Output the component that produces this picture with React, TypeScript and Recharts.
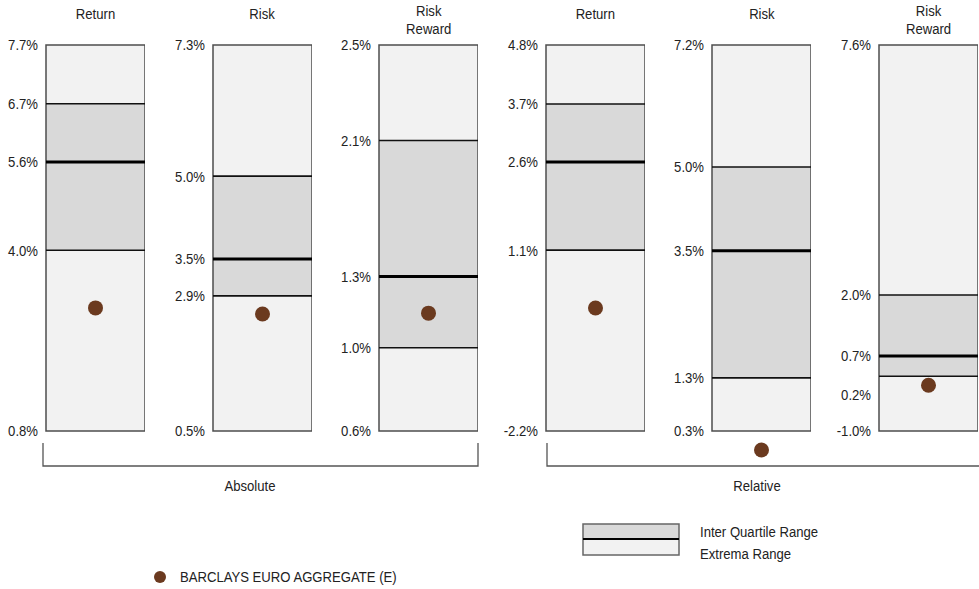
import React from 'react';
import { ComposedChart, XAxis, YAxis, ReferenceArea, ReferenceLine, ReferenceDot } from 'recharts';

// ---- data ----
const panelTitles = ['Return', 'Risk', 'Risk\nReward', 'Return', 'Risk', 'Risk\nReward'];
const groupNames = ['Absolute', 'Relative'];
const maxValues = [7.7, 7.3, 2.5, 4.8, 7.2, 7.6];
const q3Values = [6.65, 4.99, 2.03, 3.73, 5.02, 2.03];
const medianValues = [5.61, 3.53, 1.36, 2.68, 3.52, 0.67];
const q1Values = [4.03, 2.88, 1.01, 1.08, 1.25, 0.22];
const minValues = [0.8, 0.5, 0.6, -2.2, 0.3, -1.0];
const benchmarkValues = [3.0, 2.56, 1.18, 0.03, -0.04, 0.02];
const maxLabels = ['7.7%', '7.3%', '2.5%', '4.8%', '7.2%', '7.6%'];
const q3Labels = ['6.7%', '5.0%', '2.1%', '3.7%', '5.0%', '2.0%'];
const medianLabels = ['5.6%', '3.5%', '1.3%', '2.6%', '3.5%', '0.7%'];
const q1Labels = ['4.0%', '2.9%', '1.0%', '1.1%', '1.3%', '0.2%'];
const minLabels = ['0.8%', '0.5%', '0.6%', '-2.2%', '0.3%', '-1.0%'];
const benchmarkName = 'BARCLAYS EURO AGGREGATE (E)';
const iqrLegend = 'Inter Quartile Range';
const extremaLegend = 'Extrema Range';

// ---- style ----
const FONT = '"Liberation Sans", Arial, sans-serif';
const FS = 15;
const SX = 0.875;
const TEXT = '#222';
const EXTREMA = '#f2f2f2';
const IQR = '#d9d9d9';
const BORDER = '#4d4d4d';
const DOT = '#6b3a1f';
const PLOT_TOP = 45;
const PLOT_H = 386;
const AXIS_W = 50;
const BOX_W = 99;
const CHART_H = 460;
const FIRST_LEFT = 46;
const PITCH = 166.6;

function NText({ x, y, anchor = 'start', children }: { x: number; y: number; anchor?: string; children: any }) {
  return (
    <text
      transform={`translate(${x} ${y}) scale(${SX} 1)`}
      dy="0.36em"
      textAnchor={anchor}
      fontFamily={FONT}
      fontSize={FS}
      fill={TEXT}
    >
      {children}
    </text>
  );
}

function Panel({ i }: { i: number }) {
  const ticks = [maxValues[i], q3Values[i], medianValues[i], q1Values[i], minValues[i]];
  const labels = [maxLabels[i], q3Labels[i], medianLabels[i], q1Labels[i], minLabels[i]];
  const range = maxValues[i] - minValues[i];
  const renderTick = (props: any) => {
    const { x, y, payload } = props;
    let idx = ticks.indexOf(payload.value);
    if (idx < 0) idx = payload.index ?? 0;
    let shift = 0;
    if (idx > 0) {
      const gap = ((ticks[idx - 1] - ticks[idx]) / range) * PLOT_H;
      if (gap < 24) shift = 18;
    }
    return (
      <NText x={x} y={y + shift} anchor="end">
        {labels[idx]}
      </NText>
    );
  };
  const boxLeft = FIRST_LEFT + i * PITCH;
  return (
    <div style={{ position: 'absolute', left: boxLeft - AXIS_W, top: 0 }}>
      <ComposedChart
        width={AXIS_W + BOX_W}
        height={CHART_H}
        data={[{ x: 0.5 }]}
        margin={{ top: PLOT_TOP, right: 0, bottom: CHART_H - PLOT_TOP - PLOT_H, left: 0 }}
      >
        <XAxis type="number" dataKey="x" domain={[0, 1]} hide allowDataOverflow />
        <YAxis
          type="number"
          width={AXIS_W}
          domain={[minValues[i], maxValues[i]]}
          allowDataOverflow
          ticks={ticks}
          interval={0}
          axisLine={false}
          tickLine={false}
          tickSize={0}
          tickMargin={8}
          tick={renderTick}
        />
        <ReferenceArea x1={0} x2={1} y1={minValues[i]} y2={maxValues[i]} fill={EXTREMA} fillOpacity={1} stroke="none" />
        <ReferenceArea x1={0} x2={1} y1={q1Values[i]} y2={q3Values[i]} fill={IQR} fillOpacity={1} stroke="none" />
        <ReferenceLine y={q3Values[i]} stroke="#111" strokeWidth={1.6} />
        <ReferenceLine y={q1Values[i]} stroke="#111" strokeWidth={1.6} />
        <ReferenceLine y={medianValues[i]} stroke="#000" strokeWidth={3} />
        <ReferenceArea x1={0} x2={1} y1={minValues[i]} y2={maxValues[i]} fill="none" stroke={BORDER} strokeWidth={1.5} />
        <ReferenceDot x={0.5} y={benchmarkValues[i]} r={7.5} fill={DOT} stroke="none" ifOverflow="visible" />
      </ComposedChart>
    </div>
  );
}

export default function App() {
  return (
    <div
      style={{
        position: 'absolute',
        left: 0,
        top: 0,
        width: 979,
        height: 589,
        overflow: 'hidden',
        background: '#fff',
        fontFamily: FONT,
        color: TEXT,
      }}
    >
      {panelTitles.map((_, i) => (
        <Panel key={i} i={i} />
      ))}
      <svg width={979} height={589} style={{ position: 'absolute', left: 0, top: 0, pointerEvents: 'none' }}>
        {panelTitles.map((t, i) => {
          const lines = t.split('\n');
          const cx = FIRST_LEFT + i * PITCH + BOX_W / 2;
          const y0 = lines.length > 1 ? 11 : 14;
          return lines.map((ln, k) => (
            <NText key={'t' + i + '_' + k} x={cx} y={y0 + k * 18} anchor="middle">
              {ln}
            </NText>
          ));
        })}
        <path d="M43,443 V466 H478 V443" fill="none" stroke="#555" strokeWidth={1.3} />
        <path d="M547,443 V466 H990" fill="none" stroke="#555" strokeWidth={1.3} />
        <NText x={250} y={486} anchor="middle">
          {groupNames[0]}
        </NText>
        <NText x={757} y={486} anchor="middle">
          {groupNames[1]}
        </NText>
        <rect x={583} y={524} width={96} height={15} fill={IQR} />
        <rect x={583} y={539} width={96} height={16} fill={EXTREMA} />
        <rect x={583} y={524} width={96} height={31} fill="none" stroke="#666" strokeWidth={1.5} />
        <line x1={583} x2={679} y1={539} y2={539} stroke="#000" strokeWidth={2} />
        <NText x={700} y={532}>{iqrLegend}</NText>
        <NText x={700} y={554}>{extremaLegend}</NText>
        <circle cx={160} cy={577} r={6} fill={DOT} />
        <NText x={180} y={577}>{benchmarkName}</NText>
      </svg>
    </div>
  );
}
